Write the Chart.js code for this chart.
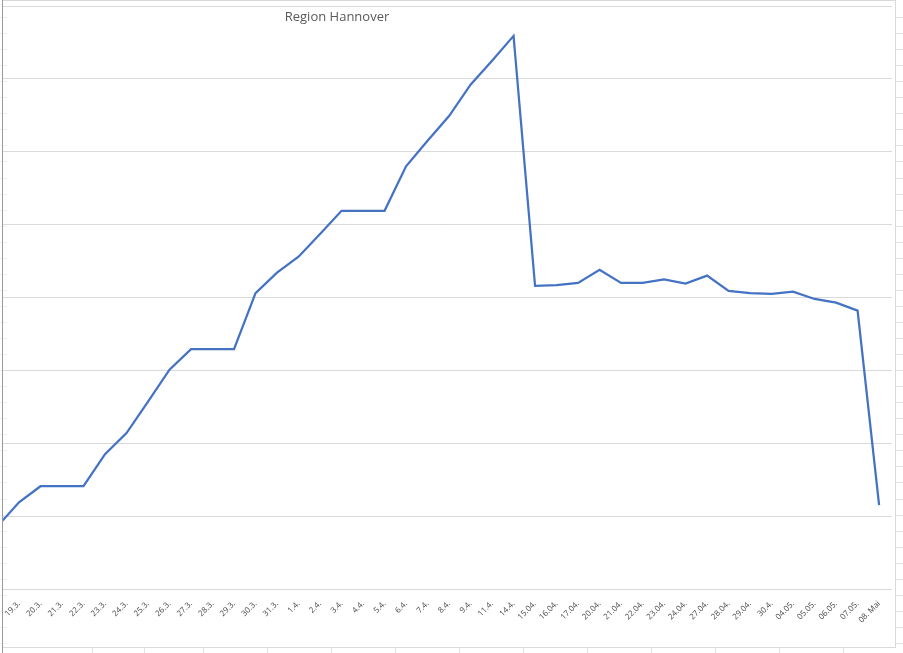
<!DOCTYPE html>
<html>
<head>
<meta charset="utf-8">
<script src="https://cdn.jsdelivr.net/npm/chart.js@4"></script>
<style>
  html, body { margin: 0; padding: 0; background: #fff; }
</style>
</head>
<body>
<canvas id="myChart" width="903" height="653"></canvas>
<script>
// day labels, first one (18.3.) is cut off by the left edge like in the sheet
const dayLabels = ['18.3.', '19.3.', '20.3.', '21.3.', '22.3.', '23.3.', '24.3.', '25.3.', '26.3.', '27.3.',
  '28.3.', '29.3.', '30.3.', '31.3.', '1.4.', '2.4.', '3.4.', '4.4.', '5.4.', '6.4.', '7.4.', '8.4.',
  '9.4.', '11.4.', '14.4.', '15.04.', '16.04.', '17.04.', '20.04.', '21.04.', '22.04.', '23.04.',
  '24.04.', '27.04.', '28.04.', '29.04.', '30.4.', '04.05.', '05.05.', '06.05.', '07.05.', '08. Mai'];

const caseValues = [86, 119, 141, 141, 141, 185, 214, 257, 301, 329,
  329, 329, 406, 434, 456, 487, 519, 519, 519, 580, 615, 649,
  692, 725, 759, 416, 417, 420, 438, 420, 420, 425,
  419, 430, 409, 406, 405, 408, 398, 393, 382, 115];

const yTicks = [0, 100, 200, 300, 400, 500, 600, 700, 800];

const chartTitle = 'Region Hannover';

const points = caseValues.map((v, i) => ({ x: i, y: v }));

// spreadsheet cells around the chart object
const sheetPlugin = {
  id: 'sheet',
  beforeDraw(chart) {
    const c = chart.ctx;
    const W = chart.width, H = chart.height;
    c.save();
    c.fillStyle = '#fff';
    c.fillRect(0, 0, W, H);
    c.lineWidth = 1;
    c.strokeStyle = '#e3e3e3';
    c.beginPath();
    for (let y = 17; y < 648; y += 16.05) {
      const yy = Math.round(y) + 0.5;
      c.moveTo(896, yy); c.lineTo(W, yy);
    }
    [92, 144, 203, 267, 331, 395, 459, 523, 587, 651, 715, 779, 843].forEach(x => {
      c.moveTo(x + 0.5, 648); c.lineTo(x + 0.5, H);
    });
    c.stroke();
    c.strokeStyle = '#f0f0f0';
    c.beginPath();
    for (let y = 17; y < H; y += 16.05) {
      const yy = Math.round(y) + 0.5;
      c.moveTo(0, yy); c.lineTo(7, yy);
    }
    c.stroke();
    // chart frame
    c.strokeStyle = '#d9d9d9';
    c.beginPath();
    c.moveTo(2, 0.5); c.lineTo(896, 0.5);
    c.moveTo(895.5, 0); c.lineTo(895.5, 648);
    c.moveTo(2, 647.5); c.lineTo(896, 647.5);
    c.stroke();
    c.strokeStyle = '#9a9a9a';
    c.beginPath();
    c.moveTo(2.5, 0); c.lineTo(2.5, H);
    c.stroke();
    c.restore();
  },
  afterDraw(chart) {
    const c = chart.ctx;
    c.save();
    c.font = '13px "Open Sans"';
    c.fillStyle = '#595959';
    c.textAlign = 'center';
    c.textBaseline = 'middle';
    c.fillText(chartTitle, 337, 17);
    c.restore();
  }
};

const ctx = document.getElementById('myChart').getContext('2d');
const myChart = new Chart(ctx, {
  type: 'line',
  data: {
    datasets: [{
      label: chartTitle,
      data: points,
      borderColor: '#4472C4',
      borderWidth: 2.25,
      pointRadius: 0,
      tension: 0,
      fill: false
    }]
  },
  options: {
    responsive: false,
    animation: false,
    layout: { padding: { left: 3, right: 11, top: 6, bottom: 0 } },
    plugins: {
      legend: { display: false },
      tooltip: { enabled: false }
    },
    scales: {
      x: {
        type: 'linear',
        min: 0.256,
        max: 41.6,
        grid: { display: false },
        border: { display: false },
        afterFit: (s) => { s.height = 64; },
        // one tick per day, the hidden first day has none
        afterBuildTicks: (s) => { s.ticks = dayLabels.slice(1).map((d, i) => ({ value: i + 1 })); },
        ticks: {
          autoSkip: false,
          minRotation: 45,
          maxRotation: 45,
          padding: 2,
          color: '#4a4a4a',
          font: { family: 'Open Sans', size: 8 },
          callback: (v) => dayLabels[v] || ''
        }
      },
      y: {
        min: 0,
        max: 800,
        afterFit: (s) => { s.width = 0; },
        afterBuildTicks: (s) => { s.ticks = yTicks.map(v => ({ value: v })); },
        ticks: { display: false },
        grid: { color: '#d9d9d9', drawTicks: false, lineWidth: 1 },
        border: { display: false }
      }
    }
  },
  plugins: [sheetPlugin]
});
</script>
</body>
</html>
